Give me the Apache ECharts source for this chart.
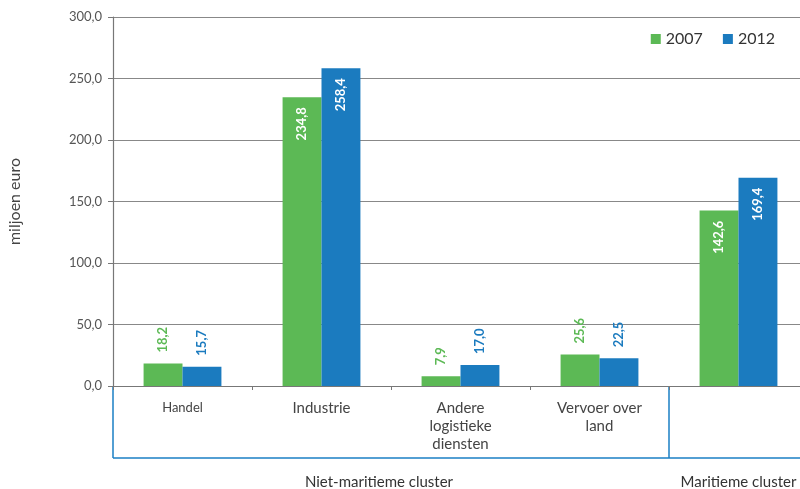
<!DOCTYPE html>
<html>
<head>
<meta charset="utf-8">
<script src="https://cdn.jsdelivr.net/npm/echarts@6/dist/echarts.min.js"></script>
<style>html,body{margin:0;padding:0;background:#fff}#c{width:800px;height:489px}</style>
</head>
<body>
<div id="c"></div>
<script>
var categories = ['Handel', 'Industrie', 'Andere\nlogistieke\ndiensten', 'Vervoer over\nland', ''];
var values2007 = [18.2, 234.8, 7.9, 25.6, 142.6];
var values2012 = [15.7, 258.4, 17.0, 22.5, 169.4];
var seriesNames = ['2007', '2012'];
var groupNames = ['Niet-maritieme cluster', 'Maritieme cluster'];
var groupSizes = [4, 1];
var yTicks = [0, 50, 100, 150, 200, 250, 300];

var GREEN = '#5cb955';
var BLUE = '#1b7bbf';
var LINE = '#1a7fc4';
var FONT = 'Lato';

function fmt(v) { return v.toFixed(1).replace('.', ','); }

function makeData(vals, color) {
  return vals.map(function (v) {
    var inside = v > 100;
    return {
      value: v,
      label: inside ? {
        position: 'insideTop', distance: 10, rotate: 90, align: 'right', verticalAlign: 'middle',
        color: '#fff'
      } : {
        position: 'top', distance: 11, rotate: 90, align: 'left', verticalAlign: 'middle',
        color: color
      }
    };
  });
}

var catData = categories.map(function (c, i) {
  return i === 0 ? { value: c, textStyle: { fontSize: 13 } } : c;
});

var chart = echarts.init(document.getElementById('c'));
chart.setOption({
  animation: false,
  textStyle: { fontFamily: FONT },
  grid: { left: 113, width: 695, top: 17, bottom: 103, containLabel: false, outerBoundsMode: 'none' },
  legend: {
    data: seriesNames, right: 25, top: 31, itemWidth: 10, itemHeight: 10, itemGap: 20, padding: 0,
    icon: 'rect', textStyle: { fontSize: 16, color: '#333', fontFamily: FONT }
  },
  xAxis: {
    type: 'category', data: catData,
    axisLine: { lineStyle: { color: '#777', width: 1.2 } },
    axisTick: { show: true, length: 4, lineStyle: { color: '#777' } },
    axisLabel: { fontSize: 15, color: '#444', lineHeight: 18, margin: 13, interval: 0, fontFamily: FONT }
  },
  yAxis: {
    type: 'value', min: yTicks[0], max: yTicks[yTicks.length - 1], interval: yTicks[1] - yTicks[0],
    name: 'miljoen euro', nameLocation: 'middle', nameGap: 90,
    nameTextStyle: { fontSize: 16, color: '#444', fontFamily: FONT },
    axisLine: { show: true, lineStyle: { color: '#777', width: 1.2 } },
    axisTick: { show: true, length: 5, lineStyle: { color: '#777' } },
    axisLabel: { formatter: function (v) { return fmt(v); }, fontSize: 13, color: '#555', margin: 11, fontFamily: FONT },
    splitLine: { lineStyle: { color: '#888', width: 1 } }
  },
  series: [
    {
      name: seriesNames[0], type: 'bar', data: makeData(values2007, GREEN), barGap: '0%', barCategoryGap: '44%',
      itemStyle: { color: GREEN },
      label: { show: true, fontSize: 13, fontWeight: 'bold', fontFamily: FONT, formatter: function (p) { return fmt(p.value); } }
    },
    {
      name: seriesNames[1], type: 'bar', data: makeData(values2012, BLUE), barGap: '0%', barCategoryGap: '44%',
      itemStyle: { color: BLUE },
      label: { show: true, fontSize: 13, fontWeight: 'bold', fontFamily: FONT, formatter: function (p) { return fmt(p.value); } }
    }
  ]
});

// group brackets below the category axis
var c0 = chart.convertToPixel({ xAxisIndex: 0 }, 0);
var c1 = chart.convertToPixel({ xAxisIndex: 0 }, 1);
var band = c1 - c0;
var y0 = chart.convertToPixel({ yAxisIndex: 0 }, 0);
var yLine = y0 + 72;
var startX = c0 - band / 2;
var elements = [];
var idx = 0;
var lastX = 800;
elements.push({ type: 'line', shape: { x1: startX, y1: yLine, x2: lastX, y2: yLine }, style: { stroke: LINE, lineWidth: 1.5 } });
elements.push({ type: 'line', shape: { x1: startX, y1: y0, x2: startX, y2: yLine }, style: { stroke: LINE, lineWidth: 1.5 } });
groupSizes.forEach(function (n, g) {
  var left = startX + idx * band;
  var right = left + n * band;
  if (g < groupSizes.length - 1) {
    elements.push({ type: 'line', shape: { x1: right, y1: y0, x2: right, y2: yLine }, style: { stroke: LINE, lineWidth: 1.5 } });
  }
  elements.push({
    type: 'text', x: (left + right) / 2 - (g === 0 ? 12 : 0), y: yLine + 24,
    style: { text: groupNames[g], fontSize: 15, fill: '#333', fontFamily: FONT, align: 'center', verticalAlign: 'middle' }
  });
  idx += n;
});
chart.setOption({ graphic: elements });
</script>
</body>
</html>
